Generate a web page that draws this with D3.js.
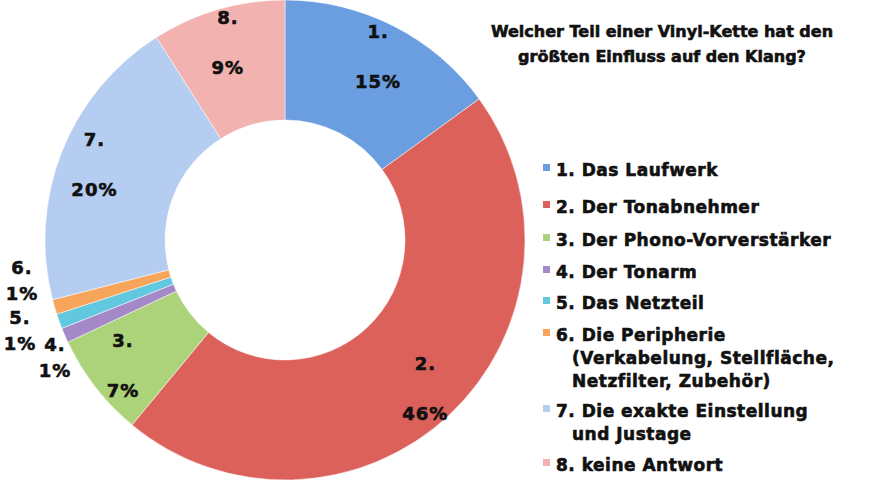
<!DOCTYPE html>
<html><head><meta charset="utf-8">
<script src="https://cdn.jsdelivr.net/npm/d3@7"></script>
<style>body{margin:0;background:#fff}text{font-family:"DejaVu Sans",sans-serif;font-weight:bold;stroke:#111;stroke-width:0.6;fill:#111}</style>
</head><body><svg width="880" height="480"></svg>
<script>
var ids = ['1.', '2.', '3.', '4.', '5.', '6.', '7.', '8.'];
var values = [15, 46, 7, 1, 1, 1, 20, 9];
var legend = [['1. Das Laufwerk'], ['2. Der Tonabnehmer'], ['3. Der Phono-Vorverstärker'], ['4. Der Tonarm'],
  ['5. Das Netzteil'], ['6. Die Peripherie', '(Verkabelung, Stellfläche,', 'Netzfilter, Zubehör)'],
  ['7. Die exakte Einstellung', 'und Justage'], ['8. keine Antwort']];
var colors = ['#6a9ee0', '#dd615b', '#acd27a', '#a488c8', '#62c8e0', '#f7a55a', '#b4cdf0', '#f2b2b0'];

var svg = d3.select('svg');
var g = svg.append('g').attr('transform', 'translate(285,240)');
var pie = d3.pie().sort(null)(values);
var arc = d3.arc().innerRadius(120).outerRadius(240);
g.selectAll('path').data(pie).enter().append('path')
  .attr('d', arc).attr('fill', function(d, i) { return colors[i]; })
  .attr('stroke', '#fff').attr('stroke-width', 0.5);

var inArc = d3.arc().innerRadius(150).outerRadius(260);
var outOff = {3: [-230, 118], 4: [-265, 91], 5: [-263, 41]};
pie.forEach(function(d, i) {
  var p = inArc.centroid(d);
  var h = 25;
  if (outOff[i]) { p = outOff[i]; h = 13; }
  var t = g.append('text').attr('text-anchor', 'middle').attr('font-size', 18).attr('letter-spacing', 1);
  t.append('tspan').attr('x', p[0]).attr('y', p[1] - h + 6).text(ids[i]);
  t.append('tspan').attr('x', p[0]).attr('y', p[1] + h + 6).text(values[i] + '%');
});

svg.append('text').attr('x', 662).attr('y', 37).attr('text-anchor', 'middle').attr('font-size', 16).text('Welcher Teil einer Vinyl-Kette hat den');
svg.append('text').attr('x', 662).attr('y', 62).attr('text-anchor', 'middle').attr('font-size', 16).text('größten Einfluss auf den Klang?');

var ly = [176, 213, 246, 278, 309, 341, 417, 471];
legend.forEach(function(lines, i) {
  svg.append('rect').attr('x', 543).attr('y', ly[i] - 12).attr('width', 7).attr('height', 7).attr('fill', colors[i]);
  lines.forEach(function(s, j) {
    svg.append('text').attr('x', j ? 572 : 556).attr('y', ly[i] + j * 23).attr('font-size', 17).attr('letter-spacing', 0.5).text(s);
  });
});
</script></body></html>
